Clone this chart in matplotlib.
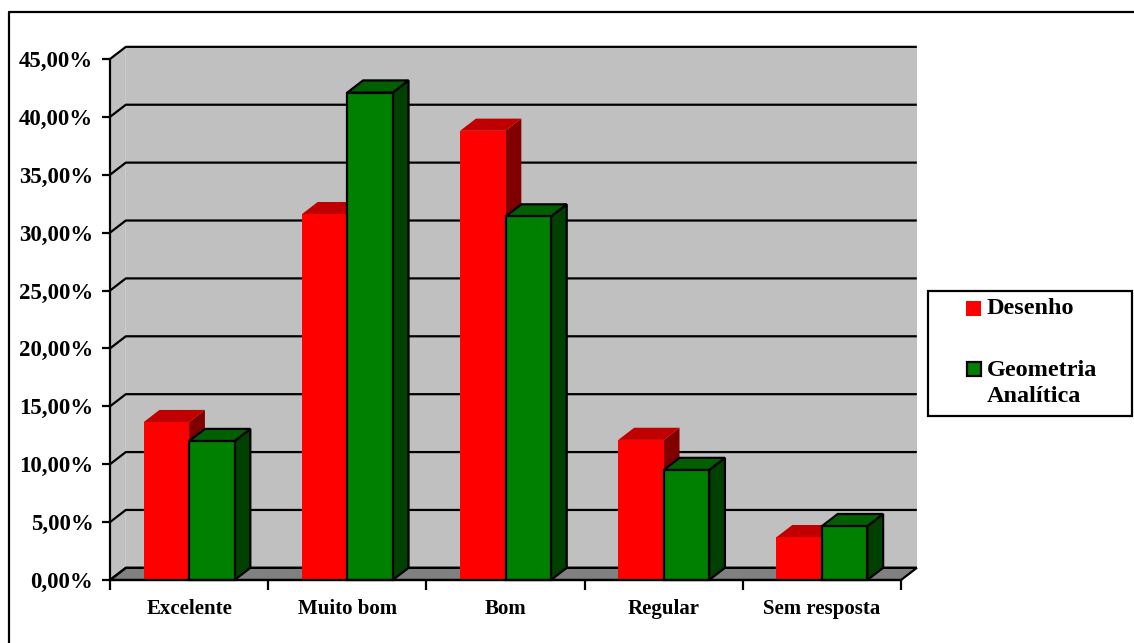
import matplotlib.pyplot as plt
from matplotlib.patches import Polygon, Rectangle
from matplotlib.lines import Line2D

# survey answers (%)
categorias = ['Excelente', 'Muito bom', 'Bom', 'Regular', 'Sem resposta']
desenho = [13.64, 31.6, 38.8, 12.1, 3.7]
geometria = [12.0, 42.1, 31.4, 9.5, 4.65]
yticks = [0, 5, 10, 15, 20, 25, 30, 35, 40, 45]

plt.rcParams['font.family'] = 'Liberation Serif'
plt.rcParams['font.weight'] = 'bold'

W, H = 1134, 643
fig = plt.figure(figsize=(W / 100, H / 100), dpi=100)

# front plane: x 110..901 px, y 580..59 px
ax = fig.add_axes([110 / W, (H - 580) / H, 791 / W, 521 / H])
ax.set_xlim(0, 5)
ax.set_ylim(0, 45)

dx, dy = 0.1, 1.05   # depth offset in data units
lw = 1.6

# walls and floor
ax.add_patch(Polygon([(dx, dy), (5 + dx, dy), (5 + dx, 45 + dy), (dx, 45 + dy)],
                     closed=True, fc='#c0c0c0', ec='none', clip_on=False, zorder=1))
ax.add_patch(Polygon([(0, 0), (dx, dy), (dx, 45 + dy), (0, 45)],
                     closed=True, fc='#c0c0c0', ec='none', clip_on=False, zorder=1))
ax.add_patch(Polygon([(0, 0), (5, 0), (5 + dx, dy), (dx, dy)],
                     closed=True, fc='#808080', ec='black', lw=lw, clip_on=False, zorder=2))

for y in yticks:
    ax.plot([0, dx, 5 + dx], [y, y + dy, y + dy], color='black', lw=lw,
            clip_on=False, zorder=2, solid_capstyle='butt')


def bar3d(x0, w, h, front, top, side, edge):
    ec = edge if edge else 'none'
    kw = dict(closed=True, ec=ec, lw=lw, clip_on=False, zorder=3, joinstyle='miter')
    ax.add_patch(Polygon([(x0 + w, 0), (x0 + w + dx, dy), (x0 + w + dx, h + dy), (x0 + w, h)],
                         fc=side, **kw))
    ax.add_patch(Polygon([(x0, h), (x0 + w, h), (x0 + w + dx, h + dy), (x0 + dx, h + dy)],
                         fc=top, **kw))
    ax.add_patch(Polygon([(x0, 0), (x0 + w, 0), (x0 + w, h), (x0, h)], fc=front, **kw))


bw = 0.287
for i in range(len(categorias)):
    c = i + 0.5
    bar3d(c - bw, bw, desenho[i], '#ff0000', '#c00000', '#800000', None)
    bar3d(c, bw, geometria[i], '#008000', '#006000', '#004000', 'black')

# axes
for s in ['top', 'right']:
    ax.spines[s].set_visible(False)
for s in ['left', 'bottom']:
    ax.spines[s].set_linewidth(lw)
    ax.spines[s].set_zorder(4)

ax.set_yticks(yticks)
ax.set_yticklabels(['%d,00%%' % v for v in yticks], fontsize=16.5, fontweight='bold')
ax.tick_params(axis='y', direction='out', length=6, width=lw, pad=6)

ax.set_xticks(range(6))
ax.set_xticklabels([])
ax.set_xticks([i + 0.5 for i in range(5)], minor=True)
ax.set_xticklabels(categorias, minor=True, fontsize=15, fontweight='bold')
ax.tick_params(axis='x', which='major', direction='out', length=7, width=lw)
ax.tick_params(axis='x', which='minor', length=0, pad=14)

# legend box
def fx(px):
    return px / W


def fy(py):
    return 1 - py / H


fig.add_artist(Rectangle((fx(928), fy(416)), fx(1132) - fx(928), fy(291) - fy(416),
                         fc='white', ec='black', lw=lw, transform=fig.transFigure))
fig.add_artist(Rectangle((fx(966), fy(316)), 15 / W, 15 / H, fc='#ff0000', ec='none',
                         transform=fig.transFigure))
fig.add_artist(Rectangle((fx(967), fy(376)), 14 / W, 14 / H, fc='#008000', ec='black',
                         lw=lw, transform=fig.transFigure))
fig.text(fx(987), fy(309), 'Desenho', fontsize=17.5, fontweight='bold', va='center')
fig.text(fx(987), fy(370), 'Geometria', fontsize=17.5, fontweight='bold', va='center')
fig.text(fx(987), fy(397), 'Analítica', fontsize=17.5, fontweight='bold', va='center')

# chart area border (left and top edges visible)
fig.add_artist(Line2D([fx(9), fx(9), fx(1140)], [fy(650), fy(12), fy(12)],
                      color='black', lw=lw, transform=fig.transFigure))

fig.savefig('out.png', dpi=100)
